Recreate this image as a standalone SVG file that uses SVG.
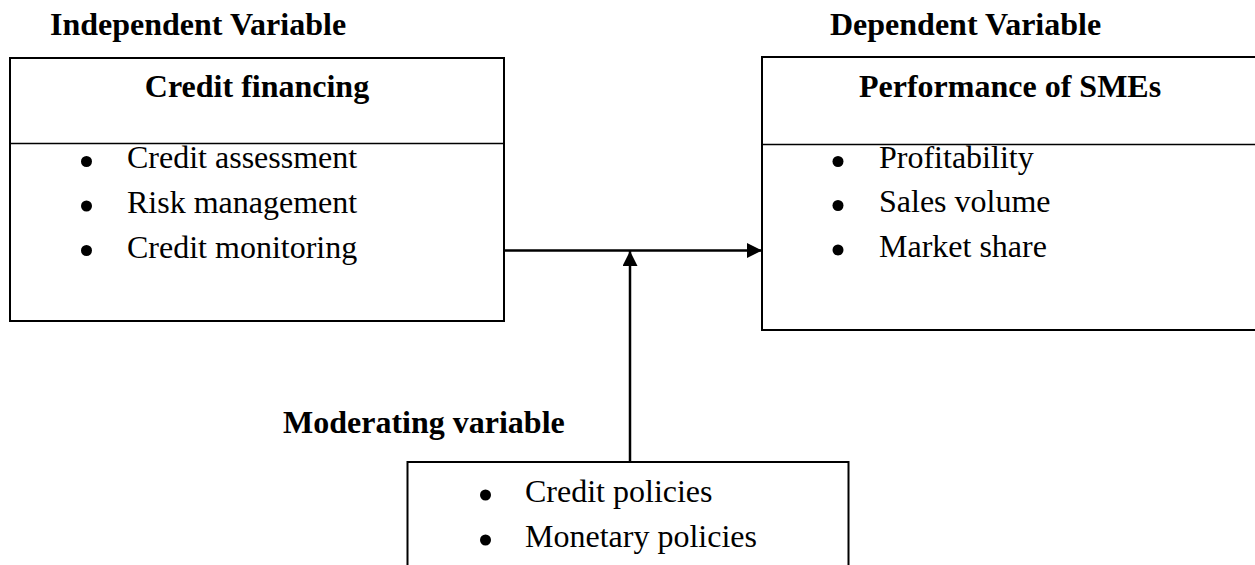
<svg xmlns="http://www.w3.org/2000/svg" width="1255" height="565" viewBox="0 0 1255 565">
<style>
.box{fill:#fff;stroke:#000;stroke-width:2}
.div{stroke:#000;stroke-width:1.5}
.h{font-family:"Liberation Serif","Times New Roman",serif;font-size:32px;font-weight:bold;fill:#000}
.t{font-family:"Liberation Serif","Times New Roman",serif;font-size:32px;fill:#000}
.b{fill:#000}
.c{stroke:#000;stroke-width:2.5;fill:none}
</style>
<defs>
<marker id="ah" viewBox="0 0 10 10" refX="10" refY="5" markerWidth="6" markerHeight="6" markerUnits="strokeWidth" orient="auto">
<path d="M0,0 L10,5 L0,10 z" fill="#000"/>
</marker>
</defs>
<rect width="1255" height="565" fill="#fff"/>
<text class="h" x="50" y="35">Independent Variable</text>
<text class="h" x="830" y="35">Dependent Variable</text>
<text class="h" x="283" y="433">Moderating variable</text>
<g id="credit-financing">
<rect class="box" x="10" y="58" width="494" height="263"/>
<line class="div" x1="10" y1="143.5" x2="504" y2="143.5"/>
<text class="h" x="257" y="97" text-anchor="middle">Credit financing</text>
<circle class="b" cx="86.5" cy="161.5" r="5.5"/>
<circle class="b" cx="86.5" cy="206" r="5.5"/>
<circle class="b" cx="86.5" cy="250.5" r="5.5"/>
<text class="t" x="127" y="168">Credit assessment</text>
<text class="t" x="127" y="213">Risk management</text>
<text class="t" x="127" y="258">Credit monitoring</text>
</g>
<g id="performance">
<rect class="box" x="762" y="57" width="500" height="273"/>
<line class="div" x1="762" y1="144.5" x2="1255" y2="144.5"/>
<text class="h" x="859" y="97">Performance of SMEs</text>
<circle class="b" cx="838" cy="161.5" r="5.5"/>
<circle class="b" cx="838" cy="205.5" r="5.5"/>
<circle class="b" cx="838" cy="250" r="5.5"/>
<text class="t" x="879" y="168">Profitability</text>
<text class="t" x="879" y="212">Sales volume</text>
<text class="t" x="879" y="257">Market share</text>
</g>
<g id="moderating">
<rect class="box" x="407.5" y="462" width="441" height="120"/>
<circle class="b" cx="485.5" cy="495" r="5.5"/>
<circle class="b" cx="485.5" cy="540" r="5.5"/>
<text class="t" x="525" y="502">Credit policies</text>
<text class="t" x="525" y="547">Monetary policies</text>
</g>
<g id="connectors">
<line class="c" x1="504" y1="250.5" x2="762" y2="250.5" marker-end="url(#ah)"/>
<line class="c" x1="630" y1="462" x2="630" y2="251" marker-end="url(#ah)"/>
</g>
</svg>
